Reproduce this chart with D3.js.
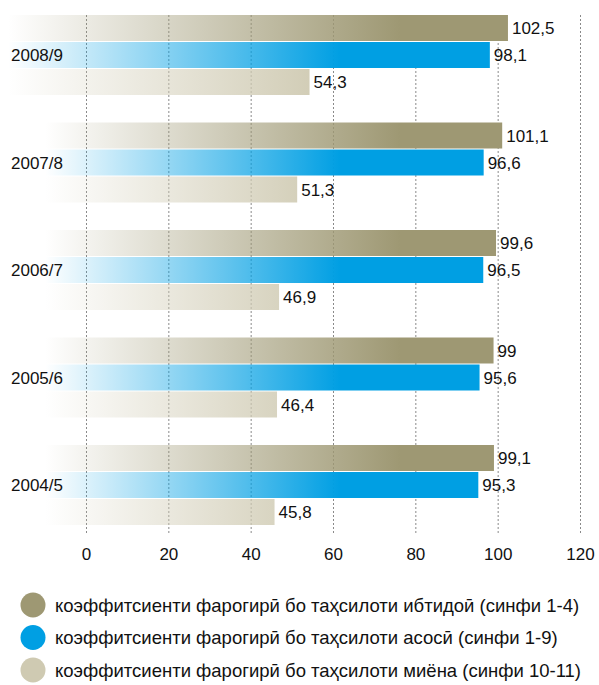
<!DOCTYPE html>
<html><head><meta charset="utf-8">
<script src="https://cdn.jsdelivr.net/npm/d3@7"></script>
<style>
html,body{margin:0;padding:0;background:#fff;}
svg{display:block;font-family:"Liberation Sans",Arial,sans-serif;}
</style></head>
<body>
<script>
const categories = ["2008/9","2007/8","2006/7","2005/6","2004/5"];
const seriesNames = [
  "коэффитсиенти фарогирӣ бо таҳсилоти ибтидоӣ (синфи 1-4)",
  "коэффитсиенти фарогирӣ бо таҳсилоти асосӣ (синфи 1-9)",
  "коэффитсиенти фарогирӣ бо таҳсилоти миёна (синфи 10-11)"
];
const primaryValues   = [102.5, 101.1, 99.6, 99, 99.1];
const basicValues     = [98.1, 96.6, 96.5, 95.6, 95.3];
const secondaryValues = [54.3, 51.3, 46.9, 46.4, 45.8];
const valueLabels = [
  ["102,5","101,1","99,6","99","99,1"],
  ["98,1","96,6","96,5","95,6","95,3"],
  ["54,3","51,3","46,9","46,4","45,8"]
];
const tickValues = [0,20,40,60,80,100,120];
const colors = ["#9e9873","#009fe3","#cfcab2"];

const W = 599, H = 685;
const svg = d3.select("body").append("svg").attr("width",W).attr("height",H);
const defs = svg.append("defs");

const seriesValues = [primaryValues, basicValues, secondaryValues];
const x = d3.scaleLinear().domain([0,120]).range([86,580]);
const y0 = d3.scaleBand().domain(categories).range([15,525]).paddingInner(27.5/107.5).paddingOuter(0);
const y1 = d3.scaleBand().domain([0,1,2]).range([0, y0.bandwidth()]).paddingInner(1/27).paddingOuter(0);

// gridlines
svg.append("g").selectAll("line").data(tickValues).join("line")
  .attr("x1",d=>x(d)+0.5).attr("x2",d=>x(d)+0.5)
  .attr("y1",15).attr("y2",534)
  .attr("stroke","#8a8a8a").attr("stroke-width",1).attr("stroke-dasharray","2,2");

// bars
const gradEnds = [400, 340, 330];
categories.forEach((c,gi)=>{
  const left = gi===0 ? 8 : 45;
  const g = svg.append("g").attr("transform",`translate(0,${y0(c)})`);
  seriesValues.forEach((vals,si)=>{
    const id = `grad-${gi}-${si}`;
    const lg = defs.append("linearGradient").attr("id",id)
      .attr("gradientUnits","userSpaceOnUse")
      .attr("x1",left).attr("x2",gradEnds[si]).attr("y1",0).attr("y2",0);
    lg.append("stop").attr("offset",0).attr("stop-color",colors[si]).attr("stop-opacity",0);
    lg.append("stop").attr("offset",1).attr("stop-color",colors[si]).attr("stop-opacity",1);
    g.append("rect")
      .attr("x",left).attr("y",y1(si))
      .attr("width",x(vals[gi])-left).attr("height",y1.bandwidth())
      .attr("fill",`url(#${id})`);
    g.append("text")
      .attr("x",x(vals[gi])+4).attr("y",y1(si)+y1.bandwidth()/2)
      .attr("dy","0.36em").attr("font-size",17).attr("fill","#111")
      .text(valueLabels[si][gi]);
  });
  g.append("text").attr("x",11).attr("y",y1(1)+y1.bandwidth()/2)
    .attr("dy","0.36em").attr("font-size",17).attr("fill","#111").text(c);
});

// x axis labels
const ax = svg.append("g").attr("transform","translate(0,554)")
  .call(d3.axisBottom(x).tickValues(tickValues).tickSize(0).tickPadding(0));
ax.select(".domain").remove();
ax.selectAll("text").attr("font-size",17).attr("fill","#111")
  .attr("font-family","Liberation Sans, Arial, sans-serif").attr("dy","0.36em").attr("y",0);

// legend
const legY = [605, 637.5, 670];
const leg = svg.append("g");
seriesNames.forEach((n,i)=>{
  leg.append("circle").attr("cx",33).attr("cy",legY[i]).attr("r",12.5).attr("fill",colors[i]);
  leg.append("text").attr("x",55).attr("y",legY[i]).attr("dy","0.36em")
    .attr("font-size",18.5).attr("fill","#111").text(n);
});
</script>
</body></html>
